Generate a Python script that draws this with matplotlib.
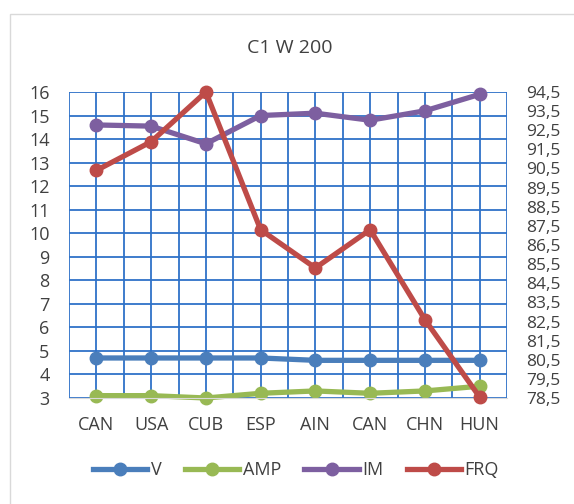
import matplotlib.pyplot as plt
import numpy as np
from matplotlib.patches import Rectangle

plt.rcParams['font.family'] = ['Open Sans', 'DejaVu Sans']

countries = ['CAN', 'USA', 'CUB', 'ESP', 'AIN', 'CAN', 'CHN', 'HUN']
v = [4.7, 4.7, 4.7, 4.7, 4.6, 4.6, 4.6, 4.6]
amp = [3.1, 3.1, 3.0, 3.2, 3.3, 3.2, 3.3, 3.5]
im = [14.6, 14.55, 13.8, 15.0, 15.1, 14.8, 15.2, 15.9]
frq = [90.4, 91.9, 94.5, 87.3, 85.3, 87.3, 82.6, 78.55]

left_ticks = list(range(3, 17))
right_ticks = [78.5 + i for i in range(17)]

fig = plt.figure(figsize=(5.74, 5.04), dpi=100)
# light chart border
fig.patches.append(Rectangle((10 / 574, -0.1), 1.2, 1 - 14 / 504 + 0.1,
                             transform=fig.transFigure, fill=False,
                             edgecolor='#d9d9d9', linewidth=1))

ax = fig.add_axes([69 / 574, 106 / 504, 438 / 574, 306 / 504])
x = np.arange(len(countries))
grid_col = '#2f72c8'
txt_col = '#404040'

ax.set_xlim(-0.5, 7.5)
ax.set_ylim(3, 16)
ax.set_yticks(left_ticks)
ax.set_xticks(x)
ax.set_xticklabels(countries)
ax.set_xticks(np.arange(-0.5, 7.6, 1), minor=True)
ax.grid(True, which='major', axis='both', color=grid_col, linewidth=1.3)
ax.grid(True, which='minor', axis='x', color=grid_col, linewidth=1.3)
ax.tick_params(which='both', length=0, labelsize=13, colors=txt_col)
ax.tick_params(axis='x', pad=13)
ax.tick_params(axis='y', pad=14)
for s in ['left', 'right', 'top']:
    ax.spines[s].set_visible(False)
ax.spines['bottom'].set_color('#d9d9d9')
ax.spines['bottom'].set_zorder(3)
ax.set_axisbelow(True)

lw, ms = 3.8, 9
l1, = ax.plot(x, v, color='#4a7ebb', lw=lw, marker='o', ms=ms, label='V', clip_on=False)
l2, = ax.plot(x, amp, color='#98b954', lw=lw, marker='o', ms=ms, label='AMP', clip_on=False)
l3, = ax.plot(x, im, color='#7d5fa0', lw=lw, marker='o', ms=ms, label='IM', clip_on=False)

ax2 = ax.twinx()
ax2.set_ylim(78.5, 94.5)
ax2.set_yticks(right_ticks)
ax2.set_yticklabels([f'{t:.1f}'.replace('.', ',') for t in right_ticks])
ax2.tick_params(length=0, labelsize=12.5, colors=txt_col, pad=14)
for s in ax2.spines.values():
    s.set_visible(False)
l4, = ax2.plot(x, frq, color='#be4b48', lw=lw, marker='o', ms=ms, label='FRQ', clip_on=False)

fig.text(290 / 574, 1 - 48 / 504, 'C1 W 200', ha='center', va='center',
         fontsize=14, color=txt_col)

fig.legend(handles=[l1, l2, l3, l4], loc='center', ncol=4,
           bbox_to_anchor=(296 / 574, 1 - 470 / 504), frameon=False,
           fontsize=13, handlelength=3.0, handletextpad=0.2, columnspacing=1.3,
           labelcolor=txt_col)

fig.savefig('out.png', dpi=100)
